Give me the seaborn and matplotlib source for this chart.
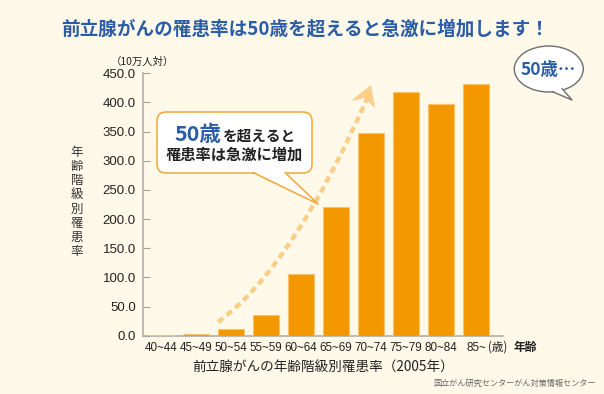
import matplotlib
matplotlib.use("Agg")
import matplotlib.pyplot as plt
import matplotlib.transforms as mtransforms
from matplotlib.patches import FancyBboxPatch, Ellipse, Polygon, PathPatch
from matplotlib.path import Path
from matplotlib.lines import Line2D
import seaborn as sns
import pandas as pd

# ---- data ----
age_groups = ["40~44", "45~49", "50~54", "55~59", "60~64",
              "65~69", "70~74", "75~79", "80~84", "85~"]
incidence = [0.8, 2.3, 11.0, 35.5, 105.0, 221.0, 348.0, 418.0, 397.0, 431.0]
y_ticks = [0, 50, 100, 150, 200, 250, 300, 350, 400, 450]

title = "前立腺がんの罹患率は50歳を超えると急激に増加します！"
x_title = "前立腺がんの年齢階級別罹患率（2005年）"
y_title = "年齢階級別罹患率"
unit_label = "（10万人対）"
source = "国立がん研究センターがん対策情報センター"

BG = "#FEF9E8"
BAR = "#F39800"
BAR_EDGE = "#F8C36A"
BLUE = "#2B5CA6"
TXT = "#222222"
CJK = ["Noto Sans CJK JP", "DejaVu Sans"]
NUM = ["Liberation Sans", "Noto Sans CJK JP", "DejaVu Sans"]

sns.set_theme(style="white")
plt.rcParams["font.family"] = NUM

W, H = 604, 394
fig = plt.figure(figsize=(W / 100, H / 100), dpi=100)
fig.patch.set_facecolor(BG)
# pixel transform (origin top-left)
PX = mtransforms.Affine2D().scale(1 / 100, -1 / 100).translate(0, H / 100) + fig.dpi_scale_trans

ax = fig.add_axes([142.7 / W, (H - 335.7) / H, 360 / W, 262.4 / H])
ax.set_facecolor(BG)
df = pd.DataFrame({"age": age_groups, "rate": incidence})
sns.barplot(data=df, x="age", y="rate", color=BAR, saturation=1, width=0.74,
            edgecolor=BAR_EDGE, linewidth=0.8, ax=ax, zorder=3)
ax.set_xlim(-0.52, 9.76)
ax.set_ylim(0, 450)
ax.set_yticks(y_ticks)
ax.set_yticklabels([f"{v:.1f}" for v in y_ticks])
ax.set_xlabel("")
ax.set_ylabel("")
for s in ["top", "right"]:
    ax.spines[s].set_visible(False)
for s in ["left", "bottom"]:
    ax.spines[s].set_color("#A8A8A8")
    ax.spines[s].set_linewidth(1.1)
ax.tick_params(axis="y", direction="in", length=5, width=0.8, color="#A0A0A0",
               pad=5, labelsize=9.5, labelcolor=TXT, left=True)
ax.tick_params(axis="x", length=0, pad=4.5, labelsize=8.4, labelcolor=TXT)
for lab in ax.get_xticklabels() + ax.get_yticklabels():
    lab.set_fontfamily(NUM)

# ---- texts ----
fig.text(305, 29, title, transform=PX, ha="center", va="center", fontsize=13.4,
         fontweight="bold", color=BLUE, family=CJK)
fig.text(142, 62, unit_label, transform=PX, ha="center", va="center",
         fontsize=7.5, color=TXT, family=CJK)
fig.text(77, 202, "\n".join(y_title), transform=PX, ha="center", va="center",
         fontsize=9, color="#333333", family=CJK, linespacing=1.12)
fig.text(323, 368, x_title, transform=PX, ha="center", va="center",
         fontsize=9.8, color=TXT, family=CJK)
fig.text(488, 347, "(歳)", transform=PX, ha="left", va="center",
         fontsize=8.3, color=TXT, family=CJK)
fig.text(514, 347, "年齢", transform=PX, ha="left", va="center",
         fontsize=8.5, fontweight="bold", color=TXT, family=CJK)
fig.text(596, 383, source, transform=PX, ha="right", va="center",
         fontsize=5.9, color="#666666", family=CJK)

# ---- dashed trend arrow ----
p0, c, p2 = (218, 322), (293, 268), (370, 92)
curve = Path([p0, c, p2], [Path.MOVETO, Path.CURVE3, Path.CURVE3])
fig.add_artist(PathPatch(curve, transform=PX, fill=False, edgecolor="#FBCF8A",
                         linewidth=3.2, linestyle=(0, (1.5, 1.0)), zorder=5))
fig.add_artist(Polygon([(371, 85), (351, 101), (364, 98), (375, 108)], closed=True,
                       transform=PX, facecolor="#FBCF8A", edgecolor="none", zorder=5))

# ---- callout box ----
ORG = "#F5A733"
box = FancyBboxPatch((157, 112), 155, 61, boxstyle="round,pad=0,rounding_size=9",
                     transform=PX, facecolor="white", edgecolor=ORG, linewidth=1.1, zorder=6)
fig.add_artist(box)
fig.add_artist(Polygon([(253, 171.5), (285, 171.5), (318, 204)], closed=True, transform=PX,
                       facecolor="white", edgecolor="none", zorder=7))
fig.add_artist(Line2D([253, 318, 285], [172.5, 204, 172.5], transform=PX, color=ORG,
                      linewidth=1.1, zorder=7))
fig.text(174, 141, "50歳", transform=PX, ha="left", va="baseline", fontsize=15.5,
         fontweight="bold", color=BLUE, family=CJK, zorder=8)
fig.text(223, 141, "を超えると", transform=PX, ha="left", va="baseline", fontsize=10.5,
         fontweight="bold", color=TXT, family=CJK, zorder=8)
fig.text(234, 155, "罹患率は急激に増加", transform=PX, ha="center", va="center",
         fontsize=11, fontweight="bold", color=TXT, family=CJK, zorder=8)

# ---- speech bubble ----
GR = "#6E6E6E"
fig.add_artist(Ellipse((548.8, 69), 69, 46, transform=PX, facecolor="white",
                       edgecolor=GR, linewidth=1.0, zorder=6))
fig.add_artist(Polygon([(552, 90.5), (572, 100), (562, 87.5)], closed=True, transform=PX,
                       facecolor="white", edgecolor="none", zorder=7))
fig.add_artist(Line2D([552, 572, 562], [91.5, 100, 88.5], transform=PX, color=GR,
                      linewidth=1.0, zorder=7))
fig.text(548, 70, "50歳…", transform=PX, ha="center", va="center", fontsize=12.5,
         fontweight="bold", color=BLUE, family=CJK, zorder=8)

fig.savefig("out.png", dpi=100, facecolor=BG)
